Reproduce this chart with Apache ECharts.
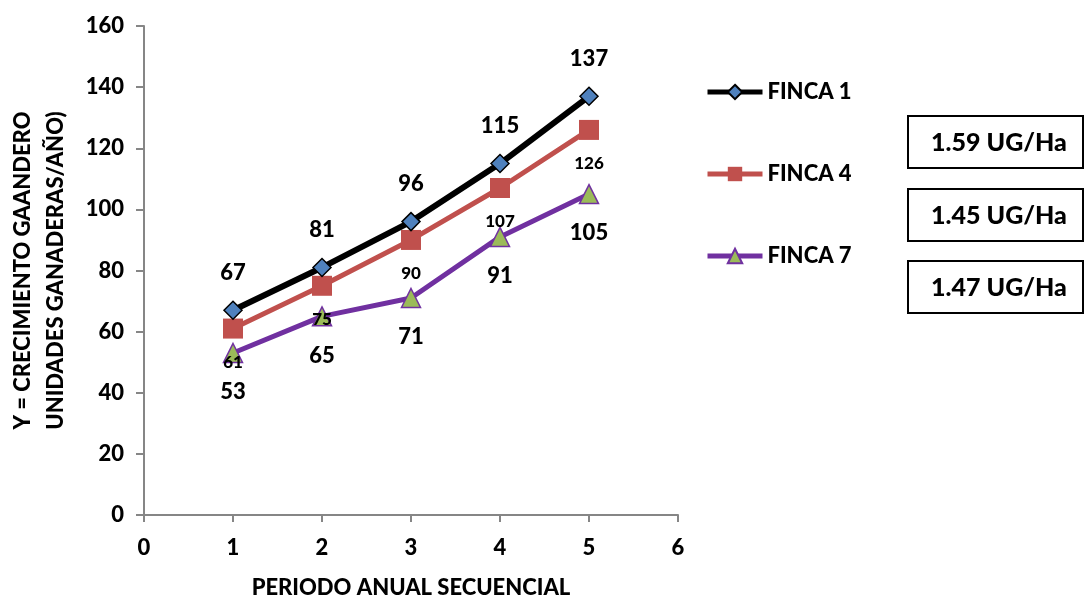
<!DOCTYPE html>
<html>
<head>
<meta charset="utf-8">
<script src="https://cdn.jsdelivr.net/npm/echarts@6/dist/echarts.min.js"></script>
<style>
  html, body { margin: 0; padding: 0; background: #fff; }
  #chart { width: 1084px; height: 599px; }
</style>
</head>
<body>
<div id="chart"></div>
<script>
// Periods (x) and herd growth per farm (animal units per year)
const periods = [1, 2, 3, 4, 5];
const finca1 = [67, 81, 96, 115, 137];
const finca4 = [61, 75, 90, 107, 126];
const finca7 = [53, 65, 71, 91, 105];
const seriesNames = ['FINCA 1', 'FINCA 4', 'FINCA 7'];
const rateLabels = ['1.59 UG/Ha', '1.45 UG/Ha', '1.47 UG/Ha'];
const xTitle = 'PERIODO ANUAL SECUENCIAL';
const yTitle = 'Y = CRECIMIENTO GAANDERO\nUNIDADES GANADERAS/AÑO)';

const FONT = 'Lato, "DejaVu Sans", sans-serif';
const W = 900;

function pairs(ys) { return periods.map((x, i) => [x, ys[i]]); }

const chart = echarts.init(document.getElementById('chart'));

// Framed growth-rate notes to the right of the legend
const boxTop = [115, 188, 260];
const boxes = rateLabels.map((t, i) => ({
  type: 'group',
  left: 907,
  top: boxTop[i],
  children: [
    { type: 'rect', shape: { x: 0, y: 0, width: 175, height: 52 },
      style: { fill: '#fff', stroke: '#000', lineWidth: 2 } },
    { type: 'text', x: 91, y: 27,
      style: { text: t, fill: '#000', font: W + ' 25px ' + FONT, align: 'center', verticalAlign: 'middle' } }
  ]
}));

chart.setOption({
  animation: false,
  backgroundColor: '#fff',
  grid: { left: 144, right: 406, top: 26, bottom: 84, containLabel: false, outerBoundsMode: 'none' },
  legend: {
    orient: 'vertical',
    left: 700,
    top: 76,
    itemWidth: 55,
    itemHeight: 18,
    itemGap: 60,
    lineStyle: { width: 5 },
    textStyle: { fontFamily: FONT, fontWeight: W, fontSize: 22, color: '#000' },
    data: seriesNames
  },
  xAxis: {
    type: 'value',
    min: 0, max: 6, interval: 1,
    name: xTitle,
    nameLocation: 'middle',
    nameGap: 62,
    nameTextStyle: { fontFamily: FONT, fontWeight: W, fontSize: 22, color: '#000' },
    axisLine: { show: true, onZero: false, lineStyle: { color: '#868686', width: 2 } },
    axisTick: { show: true, length: 7, lineStyle: { color: '#868686', width: 2 } },
    axisLabel: { fontFamily: FONT, fontWeight: W, fontSize: 22, color: '#000', margin: 22 },
    splitLine: { show: false }
  },
  yAxis: {
    type: 'value',
    min: 0, max: 160, interval: 20,
    name: yTitle,
    nameLocation: 'middle',
    nameRotate: 90,
    nameGap: 72,
    nameTextStyle: { fontFamily: FONT, fontWeight: W, fontSize: 22, color: '#000', lineHeight: 33 },
    axisLine: { show: true, lineStyle: { color: '#868686', width: 2 } },
    axisTick: { show: true, length: 8, lineStyle: { color: '#868686', width: 2 } },
    axisLabel: { fontFamily: FONT, fontWeight: W, fontSize: 22, color: '#000', margin: 20 },
    splitLine: { show: false }
  },
  series: [
    {
      name: seriesNames[0], type: 'line', data: pairs(finca1), z: 4,
      symbol: 'diamond', symbolSize: 18,
      lineStyle: { color: '#000', width: 6 },
      itemStyle: { color: '#4F81BD', borderColor: '#000', borderWidth: 1.5 },
      label: { show: true, position: 'top', distance: 17,
        fontFamily: FONT, fontWeight: W, fontSize: 22, color: '#000' }
    },
    {
      name: seriesNames[1], type: 'line', data: pairs(finca4), z: 3,
      symbol: 'rect', symbolSize: 20,
      lineStyle: { color: '#C0504D', width: 5 },
      itemStyle: { color: '#C0504D' },
      label: { show: true, position: 'bottom', distance: 15,
        fontFamily: FONT, fontWeight: W, fontSize: 17, color: '#000' }
    },
    {
      name: seriesNames[2], type: 'line', data: pairs(finca7), z: 2,
      symbol: 'triangle', symbolSize: 19,
      lineStyle: { color: '#7030A0', width: 5 },
      itemStyle: { color: '#9BBB59', borderColor: '#7030A0', borderWidth: 1.5 },
      label: { show: true, position: 'bottom', distance: 18,
        fontFamily: FONT, fontWeight: W, fontSize: 22, color: '#000' }
    }
  ],
  graphic: boxes
});
</script>
</body>
</html>
